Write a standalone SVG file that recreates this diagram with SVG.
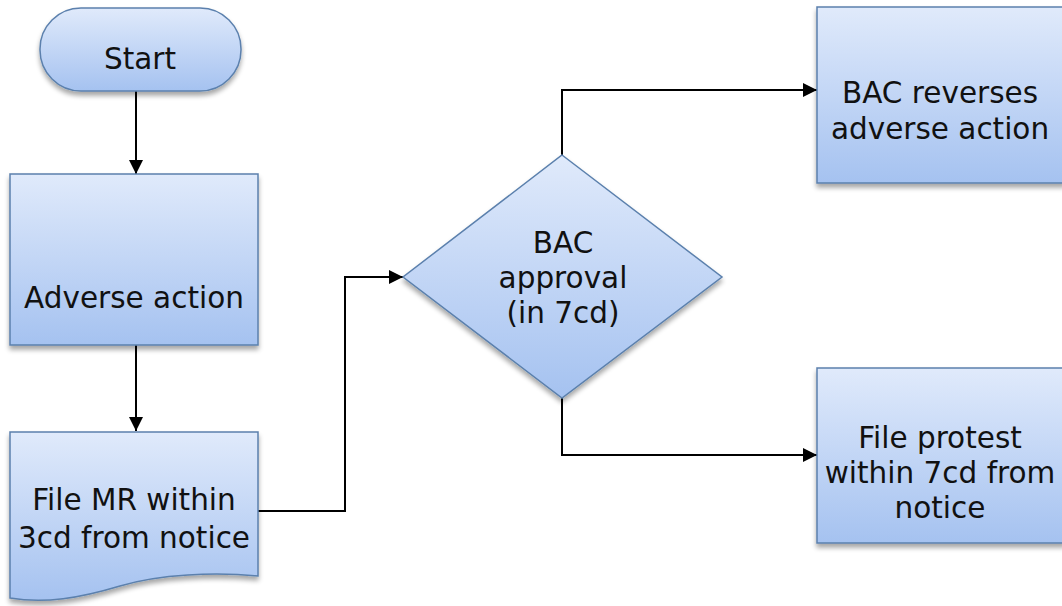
<svg xmlns="http://www.w3.org/2000/svg" width="1062" height="606" viewBox="0 0 1062 606">
<style>
.node{fill:url(#g);stroke:#5b80ad;stroke-width:1.5;filter:url(#sh)}
.t{font-family:"DejaVu Sans",Verdana,sans-serif;font-size:29.5px;fill:#111;text-anchor:middle}
.c{fill:none;stroke:#000;stroke-width:2;marker-end:url(#ah)}
</style>
<defs>
<linearGradient id="g" x1="0" y1="0" x2="0" y2="1">
<stop offset="0" stop-color="#e0eafb"/>
<stop offset="1" stop-color="#a5c2f0"/>
</linearGradient>
<filter id="sh" x="-10%" y="-10%" width="120%" height="130%">
<feGaussianBlur in="SourceAlpha" stdDeviation="2.5"/>
<feOffset dx="0" dy="4" result="b"/>
<feComponentTransfer><feFuncA type="linear" slope="0.35"/></feComponentTransfer>
<feMerge><feMergeNode/><feMergeNode in="SourceGraphic"/></feMerge>
</filter>
<marker id="ah" viewBox="0 0 14 14" refX="14" refY="7" markerWidth="14" markerHeight="14" markerUnits="userSpaceOnUse" orient="auto">
<path d="M0,0 L14,7 L0,14 Z" fill="#000"/>
</marker>
</defs>
<g id="connectors">
<path class="c" d="M136,91 V174"/>
<path class="c" d="M136,345 V431"/>
<path class="c" d="M258,511 H345 V277 H403"/>
<path class="c" d="M562,155 V90 H817"/>
<path class="c" d="M562,398 V455 H817"/>
</g>
<g id="start">
<rect class="node" x="40" y="8" width="201" height="83" rx="41" ry="41"/>
<text class="t" x="140" y="69">Start</text>
</g>
<g id="adverse">
<rect class="node" x="10" y="174" width="248" height="171"/>
<text class="t" x="134" y="308">Adverse action</text>
</g>
<g id="filemr">
<path class="node" d="M10,432 H258 V576 C215,572 160,574 120,586 C80,598 45,604 10,598 Z"/>
<text class="t" x="134" y="510">File MR within</text>
<text class="t" x="134" y="548">3cd from notice</text>
</g>
<g id="decision">
<path class="node" d="M562,155 L722,277 L562,398 L403,277 Z"/>
<text class="t" x="563" y="253">BAC</text>
<text class="t" x="563" y="288">approval</text>
<text class="t" x="563" y="323">(in 7cd)</text>
</g>
<g id="reverses">
<rect class="node" x="817" y="7" width="248" height="176"/>
<text class="t" x="940" y="103">BAC reverses</text>
<text class="t" x="940" y="139">adverse action</text>
</g>
<g id="protest">
<rect class="node" x="817" y="368" width="248" height="175"/>
<text class="t" x="940" y="448">File protest</text>
<text class="t" x="940" y="483">within 7cd from</text>
<text class="t" x="940" y="518">notice</text>
</g>
</svg>
